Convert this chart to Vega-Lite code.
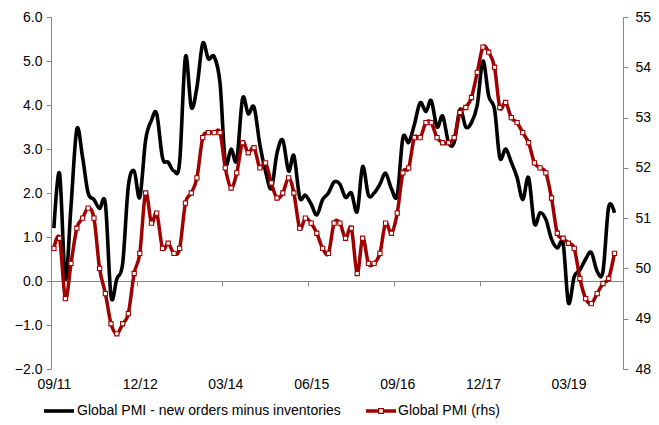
{
  "$schema": "https://vega.github.io/schema/vega-lite/v6.json",
  "width": 572,
  "height": 352,
  "autosize": "none",
  "padding": {"left": 51, "top": 17, "right": 36, "bottom": 56},
  "background": "white",
  "config": {
    "view": {"stroke": null},
    "font": "Liberation Sans",
    "axis": {
      "labelFont": "Liberation Sans",
      "labelFontSize": 14,
      "labelColor": "#000000",
      "domainColor": "#868686",
      "tickColor": "#868686",
      "tickSize": 5,
      "grid": false,
      "title": null
    },
    "legend": {
      "labelFont": "Liberation Sans",
      "labelFontSize": 14,
      "labelColor": "#000000",
      "labelLimit": 0,
      "title": null
    }
  },
  "data": {
    "values": [
      {"date": "2011-09-01", "diff": 1.2, "pmi": 50.4},
      {"date": "2011-10-01", "diff": 2.45, "pmi": 50.6},
      {"date": "2011-11-01", "diff": 0.05, "pmi": 49.4},
      {"date": "2011-12-01", "diff": 1.7, "pmi": 50.1},
      {"date": "2012-01-01", "diff": 3.45, "pmi": 50.8},
      {"date": "2012-02-01", "diff": 2.8, "pmi": 51.0},
      {"date": "2012-03-01", "diff": 2.0, "pmi": 51.2},
      {"date": "2012-04-01", "diff": 1.85, "pmi": 51.0},
      {"date": "2012-05-01", "diff": 1.65, "pmi": 50.0},
      {"date": "2012-06-01", "diff": 1.75, "pmi": 49.5},
      {"date": "2012-07-01", "diff": -0.35, "pmi": 48.9},
      {"date": "2012-08-01", "diff": 0.05, "pmi": 48.7},
      {"date": "2012-09-01", "diff": 0.4, "pmi": 48.9},
      {"date": "2012-10-01", "diff": 2.15, "pmi": 49.1},
      {"date": "2012-11-01", "diff": 2.5, "pmi": 49.9},
      {"date": "2012-12-01", "diff": 1.9, "pmi": 50.3},
      {"date": "2013-01-01", "diff": 3.2, "pmi": 51.5},
      {"date": "2013-02-01", "diff": 3.65, "pmi": 50.9},
      {"date": "2013-03-01", "diff": 3.8, "pmi": 51.1},
      {"date": "2013-04-01", "diff": 2.8, "pmi": 50.4},
      {"date": "2013-05-01", "diff": 2.7, "pmi": 50.5},
      {"date": "2013-06-01", "diff": 2.5, "pmi": 50.3},
      {"date": "2013-07-01", "diff": 2.7, "pmi": 50.4},
      {"date": "2013-08-01", "diff": 5.1, "pmi": 51.3},
      {"date": "2013-09-01", "diff": 3.95, "pmi": 51.5},
      {"date": "2013-10-01", "diff": 4.4, "pmi": 51.8},
      {"date": "2013-11-01", "diff": 5.4, "pmi": 52.6},
      {"date": "2013-12-01", "diff": 5.05, "pmi": 52.7},
      {"date": "2014-01-01", "diff": 5.1, "pmi": 52.7},
      {"date": "2014-02-01", "diff": 4.5, "pmi": 52.7},
      {"date": "2014-03-01", "diff": 2.7, "pmi": 52.0},
      {"date": "2014-04-01", "diff": 3.0, "pmi": 51.6},
      {"date": "2014-05-01", "diff": 2.75, "pmi": 51.9},
      {"date": "2014-06-01", "diff": 4.15, "pmi": 52.5},
      {"date": "2014-07-01", "diff": 3.8, "pmi": 52.3},
      {"date": "2014-08-01", "diff": 3.95, "pmi": 52.4},
      {"date": "2014-09-01", "diff": 3.1, "pmi": 52.0},
      {"date": "2014-10-01", "diff": 2.5, "pmi": 52.1},
      {"date": "2014-11-01", "diff": 2.1, "pmi": 51.7},
      {"date": "2014-12-01", "diff": 2.9, "pmi": 51.4},
      {"date": "2015-01-01", "diff": 3.2, "pmi": 51.5},
      {"date": "2015-02-01", "diff": 2.5, "pmi": 51.8},
      {"date": "2015-03-01", "diff": 2.85, "pmi": 51.5},
      {"date": "2015-04-01", "diff": 1.9, "pmi": 50.8},
      {"date": "2015-05-01", "diff": 1.95, "pmi": 51.0},
      {"date": "2015-06-01", "diff": 1.75, "pmi": 50.9},
      {"date": "2015-07-01", "diff": 1.5, "pmi": 50.7},
      {"date": "2015-08-01", "diff": 1.85, "pmi": 50.4},
      {"date": "2015-09-01", "diff": 2.0, "pmi": 50.3},
      {"date": "2015-10-01", "diff": 2.25, "pmi": 50.9},
      {"date": "2015-11-01", "diff": 2.2, "pmi": 50.9},
      {"date": "2015-12-01", "diff": 1.9, "pmi": 50.6},
      {"date": "2016-01-01", "diff": 2.0, "pmi": 50.8},
      {"date": "2016-02-01", "diff": 1.58, "pmi": 49.9},
      {"date": "2016-03-01", "diff": 2.6, "pmi": 50.6},
      {"date": "2016-04-01", "diff": 1.95, "pmi": 50.1},
      {"date": "2016-05-01", "diff": 2.0, "pmi": 50.1},
      {"date": "2016-06-01", "diff": 2.2, "pmi": 50.3},
      {"date": "2016-07-01", "diff": 2.45, "pmi": 50.9},
      {"date": "2016-08-01", "diff": 2.1, "pmi": 50.7},
      {"date": "2016-09-01", "diff": 1.95, "pmi": 51.1},
      {"date": "2016-10-01", "diff": 3.25, "pmi": 51.9},
      {"date": "2016-11-01", "diff": 3.15, "pmi": 52.0},
      {"date": "2016-12-01", "diff": 3.55, "pmi": 52.6},
      {"date": "2017-01-01", "diff": 4.05, "pmi": 52.6},
      {"date": "2017-02-01", "diff": 3.85, "pmi": 52.9},
      {"date": "2017-03-01", "diff": 4.1, "pmi": 52.9},
      {"date": "2017-04-01", "diff": 3.5, "pmi": 52.6},
      {"date": "2017-05-01", "diff": 3.75, "pmi": 52.5},
      {"date": "2017-06-01", "diff": 3.15, "pmi": 52.5},
      {"date": "2017-07-01", "diff": 3.15, "pmi": 52.6},
      {"date": "2017-08-01", "diff": 3.9, "pmi": 53.1},
      {"date": "2017-09-01", "diff": 3.5, "pmi": 53.2},
      {"date": "2017-10-01", "diff": 3.6, "pmi": 53.4},
      {"date": "2017-11-01", "diff": 4.0, "pmi": 53.9},
      {"date": "2017-12-01", "diff": 5.0, "pmi": 54.4},
      {"date": "2018-01-01", "diff": 4.2, "pmi": 54.3},
      {"date": "2018-02-01", "diff": 3.9, "pmi": 54.0},
      {"date": "2018-03-01", "diff": 2.8, "pmi": 53.2},
      {"date": "2018-04-01", "diff": 3.0, "pmi": 53.3},
      {"date": "2018-05-01", "diff": 2.7, "pmi": 53.0},
      {"date": "2018-06-01", "diff": 2.35, "pmi": 52.9},
      {"date": "2018-07-01", "diff": 1.85, "pmi": 52.7},
      {"date": "2018-08-01", "diff": 2.35, "pmi": 52.5},
      {"date": "2018-09-01", "diff": 1.3, "pmi": 52.1},
      {"date": "2018-10-01", "diff": 1.55, "pmi": 52.0},
      {"date": "2018-11-01", "diff": 1.4, "pmi": 51.9},
      {"date": "2018-12-01", "diff": 0.95, "pmi": 51.4},
      {"date": "2019-01-01", "diff": 0.75, "pmi": 50.7},
      {"date": "2019-02-01", "diff": 0.85, "pmi": 50.6},
      {"date": "2019-03-01", "diff": -0.5, "pmi": 50.5},
      {"date": "2019-04-01", "diff": 0.1, "pmi": 50.4},
      {"date": "2019-05-01", "diff": 0.25, "pmi": 49.8},
      {"date": "2019-06-01", "diff": 0.5, "pmi": 49.4},
      {"date": "2019-07-01", "diff": 0.65, "pmi": 49.3},
      {"date": "2019-08-01", "diff": 0.22, "pmi": 49.5},
      {"date": "2019-09-01", "diff": 0.22, "pmi": 49.7},
      {"date": "2019-10-01", "diff": 1.68, "pmi": 49.8},
      {"date": "2019-11-01", "diff": 1.55, "pmi": 50.3}
    ]
  },
  "encoding": {
    "x": {
      "field": "date",
      "type": "temporal",
      "scale": {
        "type": "utc",
        "domain": [
          {"year": 2011, "month": 8, "date": 16, "hours": 12, "utc": true},
          {"year": 2019, "month": 12, "date": 16, "hours": 12, "utc": true}
        ]
      },
      "axis": {
        "orient": "bottom",
        "offset": -88,
        "values": [
          {"year": 2011, "month": 9, "date": 1, "utc": true},
          {"year": 2012, "month": 12, "date": 1, "utc": true},
          {"year": 2014, "month": 3, "date": 1, "utc": true},
          {"year": 2015, "month": 6, "date": 1, "utc": true},
          {"year": 2016, "month": 9, "date": 1, "utc": true},
          {"year": 2017, "month": 12, "date": 1, "utc": true},
          {"year": 2019, "month": 3, "date": 1, "utc": true}
        ],
        "format": "%m/%y",
        "tickOffset": -2.9,
        "labelOffset": 2.9,
        "labelPadding": 91,
        "labelFlush": false,
        "labelOverlap": false
      }
    }
  },
  "layer": [
    {
      "mark": {"type": "line", "interpolate": "cardinal", "strokeWidth": 3.6, "color": "#000000"},
      "encoding": {
        "y": {
          "field": "diff",
          "type": "quantitative",
          "scale": {"domain": [-2, 6], "nice": false, "zero": false},
          "axis": {"orient": "left", "values": [-2, -1, 0, 1, 2, 3, 4, 5, 6], "format": ".1f", "labelPadding": 4}
        },
        "color": {
          "datum": "Global PMI - new orders minus inventories",
          "scale": {"range": ["#000000"]},
          "legend": {
            "orient": "none",
            "legendX": -7,
            "legendY": 379,
            "symbolType": "M-1,-0.12H1V0.12H-1Z",
            "symbolSize": 900,
            "labelOffset": 3,
            "symbolStrokeWidth": 0,
            "symbolFillColor": "#000000"
          }
        }
      }
    },
    {
      "layer": [
        {
          "mark": {"type": "line", "interpolate": "cardinal", "strokeWidth": 3.5, "color": "#A00000"},
          "encoding": {
            "y": {
              "field": "pmi",
              "type": "quantitative",
              "scale": {"domain": [48, 55], "nice": false, "zero": false},
              "axis": {"orient": "right", "values": [48, 49, 50, 51, 52, 53, 54, 55], "format": "d", "labelPadding": 7}
            },
            "color": {
              "datum": "Global PMI (rhs)",
              "scale": {"range": ["#A00000"]},
              "legend": {
                "orient": "none",
                "legendX": 315,
                "legendY": 379,
                "symbolType": "M-1,-0.11H-0.2V0.11H-1Z M0.2,-0.11H1V0.11H0.2Z M-0.2,-0.2H0.2V0.2H-0.2Z M-0.12,-0.12V0.12H0.12V-0.12Z",
                "symbolSize": 900,
                "labelOffset": 2,
                "symbolStrokeWidth": 0,
                "symbolFillColor": "#A00000"
              }
            }
          }
        },
        {
          "mark": {"type": "point", "shape": "square", "size": 18, "filled": true, "fill": "#FFFFFF", "stroke": "#A00000", "strokeWidth": 1.1, "opacity": 1},
          "encoding": {
            "y": {"field": "pmi", "type": "quantitative"}
          }
        }
      ]
    }
  ],
  "resolve": {"scale": {"y": "independent", "color": "independent"}}
}
